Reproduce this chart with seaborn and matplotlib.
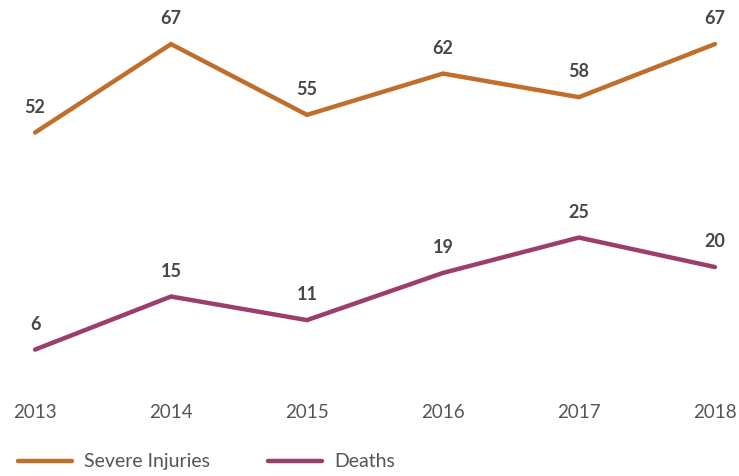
import pandas as pd
import matplotlib.pyplot as plt
import seaborn as sns
from matplotlib.lines import Line2D

years = [2013, 2014, 2015, 2016, 2017, 2018]
severe_injuries = [52, 67, 55, 62, 58, 67]
deaths = [6, 15, 11, 19, 25, 20]

orange = "#C06E2B"
purple = "#9B3E6C"

sns.set_style("white")
plt.rcParams["font.family"] = ["Lato", "DejaVu Sans"]

df = pd.DataFrame({"Year": years, "Severe Injuries": severe_injuries, "Deaths": deaths})

fig = plt.figure(figsize=(7.39, 4.76), dpi=100)
ax = fig.add_axes([0.0474, 0.1912, 0.92, 0.767])
ax2 = ax.twinx()

# deaths on the lower axis, injuries on an offset axis with the same scale
sns.lineplot(data=df, x="Year", y="Deaths", ax=ax, color=purple, linewidth=3.2,
             solid_capstyle="round", solid_joinstyle="miter", clip_on=False)
sns.lineplot(data=df, x="Year", y="Severe Injuries", ax=ax2, color=orange, linewidth=3.2,
             solid_capstyle="round", solid_joinstyle="miter", clip_on=False)

ax.set_ylim(0, 61.9)
ax2.set_ylim(9.2, 71.1)
ax.set_xlim(2013, 2018)

for a, vals in [(ax, deaths), (ax2, severe_injuries)]:
    for x, y in zip(years, vals):
        a.annotate(str(y), (x, y), xytext=(0, 12), textcoords="offset points",
                   ha="center", va="bottom", fontsize=13, fontweight="bold",
                   color="#474747")
    a.set_yticks([])
    a.set_ylabel("")
    for s in a.spines.values():
        s.set_visible(False)

ax.set_xlabel("")
ax.set_xticks(years)
ax.set_xticklabels([str(y) for y in years])
ax.tick_params(axis="x", length=0, pad=14, labelsize=13.5, labelcolor="#555555")

handles = [Line2D([], [], color=orange, linewidth=3.2, solid_capstyle="round"),
           Line2D([], [], color=purple, linewidth=3.2, solid_capstyle="round")]
fig.legend(handles, ["Severe Injuries", "Deaths"], loc="lower left",
           bbox_to_anchor=(0.0, -0.025), ncol=2, frameon=False, fontsize=14,
           handlelength=2.8, handletextpad=0.6, columnspacing=3.0, labelcolor="#555555")

fig.savefig("out.png", dpi=100)
